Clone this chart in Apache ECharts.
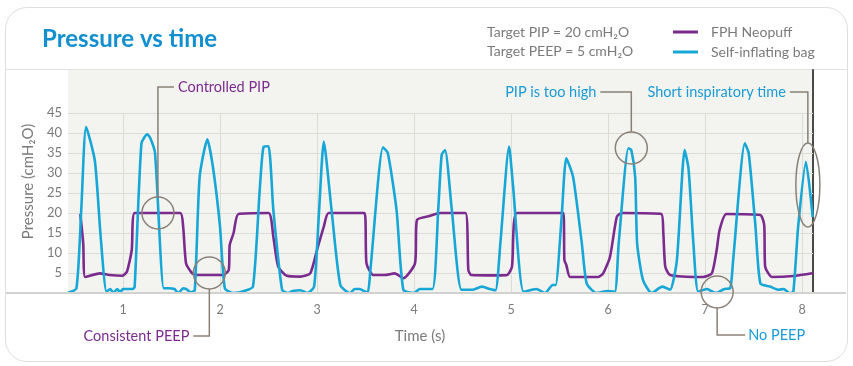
<!DOCTYPE html>
<html><head><meta charset="utf-8">
<script src="https://cdn.jsdelivr.net/npm/echarts@6/dist/echarts.min.js"></script>
<style>
html,body{margin:0;padding:0;background:#fff;}
#wrap{position:relative;width:853px;height:366px;}
#card{position:absolute;left:5px;top:7px;width:841px;height:353px;border:1px solid #dedede;border-radius:22px;box-sizing:content-box;}
#hdr{position:absolute;left:6px;top:69px;width:841px;height:1px;background:#e2e2e2;}
#c{position:absolute;left:0;top:0;width:853px;height:366px;}
</style>
</head><body>
<div id="wrap"><div id="card"></div><div id="hdr"></div><div id="c"></div></div>
<script>
// ---- data ----
const seriesNames = ['FPH Neopuff', 'Self-inflating bag'];
const neopuffSamples = [[0.56,19.75],[0.59,12.4],[0.61,4],[0.76,4.9],[0.86,4.5],[0.99,4.3],[1.04,5.3],[1.09,10.75],[1.12,20],[1.59,20],[1.62,16.6],[1.65,7.4],[1.71,5],[1.76,4.5],[2.03,4.5],[2.09,5.75],[2.10,12],[2.14,15],[2.19,19.75],[2.50,20],[2.55,14],[2.60,6.6],[2.69,4.3],[2.83,4.1],[2.93,4.9],[3.00,10.75],[3.07,16.6],[3.12,20],[3.49,20],[3.51,7.4],[3.58,4.5],[3.70,4.5],[3.80,4.9],[3.89,3.7],[4.01,7.4],[4.03,18.25],[4.16,19.25],[4.27,20],[4.53,20],[4.56,5.75],[4.59,4.5],[4.85,4.4],[4.96,4.5],[5.01,6.6],[5.06,20],[5.54,20],[5.55,8.25],[5.57,7],[5.61,4],[5.90,4],[5.95,4.9],[6.02,9],[6.09,19],[6.14,20],[6.55,19.75],[6.57,15],[6.59,6.6],[6.64,4.5],[6.98,4],[7.07,4.9],[7.12,10.75],[7.15,15.75],[7.22,19.75],[7.57,19.5],[7.61,17],[7.62,6.6],[7.69,4],[7.91,4.25],[8.12,5]];
const bagSamples = [[0.43,0],[0.52,1.2],[0.57,21],[0.62,41.5],[0.71,33],[0.77,14],[0.83,0.3],[0.87,1],[0.90,0],[0.94,1],[0.97,0.2],[1.00,1],[1.10,1],[1.12,1.5],[1.19,37.4],[1.25,39.7],[1.28,38.8],[1.33,35],[1.42,1.2],[1.47,1.2],[1.53,1],[1.57,0],[1.62,1.2],[1.65,1],[1.70,0.2],[1.74,0.7],[1.79,29],[1.87,38.4],[1.93,31],[2.00,16.6],[2.05,1.2],[2.14,0],[2.25,0.5],[2.34,1.6],[2.41,26],[2.45,36.6],[2.50,36.7],[2.55,20.7],[2.64,0.8],[2.70,0],[2.75,0.5],[2.83,0.7],[2.90,0],[2.97,1.6],[3.02,20],[3.07,37.8],[3.15,20.7],[3.24,2],[3.34,0],[3.39,1],[3.44,1],[3.52,0],[3.55,5.7],[3.68,36.4],[3.73,35],[3.82,20.7],[3.89,0.8],[4.00,0],[4.06,1],[4.19,1],[4.25,21],[4.285,34.5],[4.32,35.75],[4.39,20.7],[4.49,0.8],[4.60,0.8],[4.70,1.6],[4.78,1],[4.84,0.7],[4.89,12.4],[4.98,36.6],[5.02,27],[5.13,0.3],[5.26,1],[5.35,0],[5.43,2],[5.46,2],[5.52,18.3],[5.57,33.7],[5.64,29],[5.73,12.4],[5.78,2.4],[5.88,0],[6.00,0.5],[6.07,0.3],[6.11,12.4],[6.21,36.2],[6.24,35.75],[6.28,29],[6.30,12.4],[6.36,3.3],[6.45,0],[6.56,1.6],[6.64,0.8],[6.71,8.3],[6.79,35.75],[6.83,31],[6.88,12.4],[6.93,0.3],[7.02,1],[7.11,0],[7.20,1],[7.26,1.2],[7.29,8.3],[7.41,37.4],[7.45,35],[7.52,16.6],[7.57,2.4],[7.67,1.6],[7.76,0.8],[7.81,1],[7.87,0],[7.91,0.3],[7.96,16.6],[8.04,32.8],[8.11,19]];
const xTickLabels = [1, 2, 3, 4, 5, 6, 7, 8];
const yTickLabels = [5, 10, 15, 20, 25, 30, 35, 40, 45];
const timeRange = [0.433, 8.113];
const pressureRange = [0, 55.75];
const targetTexts = ['Target PIP = 20 cmH\u2082O', 'Target PEEP = 5 cmH\u2082O'];
// annotation anchors: [time, pressure]
const annoControlledPIP = [1.36, 20];
const annoConsistentPEEP = [1.89, 5];
const annoPIPTooHigh = [6.24, 36.25];
const annoShortInsp = [8.06, 27];
const annoNoPEEP = [7.125, 0.25];

// ---- style ----
const PURPLE = '#7b2b8e';
const BLUE = '#16a7d7';
const TBLUE = '#1a9ad6';
const GREY = '#7a7a7a';
const LEAD = '#8a8077';
const GRIDC = '#dcdcd6';
const FONT = 'Lato, "Open Sans", sans-serif';

const chart = echarts.init(document.getElementById('c'), null, {renderer: 'canvas'});

const gridLines = [];
xTickLabels.forEach(x => gridLines.push([{coord: [x, 0]}, {coord: [x, 45]}]));
yTickLabels.forEach(y => gridLines.push([{coord: [timeRange[0], y]}, {coord: [timeRange[1], y]}]));

const option = {
  animation: false,
  backgroundColor: 'transparent',
  title: {
    text: 'Pressure vs time', left: 37, top: 22,
    textStyle: {fontFamily: FONT, fontSize: 24, fontWeight: 'bold', color: '#128fcf'}
  },
  legend: {
    data: seriesNames, orient: 'vertical', left: 668, top: 20,
    icon: 'rect', itemWidth: 25, itemHeight: 3, itemGap: 6,
    textStyle: {fontFamily: FONT, fontSize: 14, color: GREY, padding: [0, 0, 0, 8]}
  },
  grid: {left: 68, right: 40, top: 70, bottom: 73, show: true, backgroundColor: '#f3f4ef', borderWidth: 0},
  xAxis: {
    type: 'value', min: timeRange[0], max: timeRange[1],
    axisLine: {show: false}, axisTick: {show: false, customValues: xTickLabels},
    splitLine: {show: false},
    axisLabel: {customValues: xTickLabels, color: GREY, fontFamily: FONT, fontSize: 12.5, margin: 10}
  },
  yAxis: [{
    type: 'value', min: pressureRange[0], max: pressureRange[1], interval: 5,
    name: 'Pressure (cmH\u2082O)', nameLocation: 'middle', nameGap: 31,
    nameTextStyle: {fontFamily: FONT, fontSize: 15, color: GREY},
    axisLine: {show: false}, axisTick: {show: false}, splitLine: {show: false},
    axisLabel: {color: GREY, fontFamily: FONT, fontSize: 13, margin: 6,
      formatter: v => (yTickLabels.indexOf(v) >= 0 ? String(v) : '')}
  }, {
    type: 'value', position: 'right', min: pressureRange[0], max: pressureRange[1],
    axisLine: {show: true, lineStyle: {color: '#4a4a4a', width: 2}},
    axisTick: {show: false}, axisLabel: {show: false}, splitLine: {show: false}
  }],
  series: [{
    name: seriesNames[0], type: 'line', data: neopuffSamples, showSymbol: false, symbol: 'none',
    smooth: 0.2, lineStyle: {color: PURPLE, width: 2.6}, itemStyle: {color: PURPLE}, z: 3,
    markLine: {
      silent: true, symbol: ['none', 'none'], z: 1, label: {show: false},
      lineStyle: {color: GRIDC, width: 1, type: 'solid'}, emphasis: {disabled: true},
      data: gridLines
    }
  }, {
    name: seriesNames[1], type: 'line', data: bagSamples, showSymbol: false, symbol: 'none',
    smooth: 0.2, lineStyle: {color: BLUE, width: 2.6}, itemStyle: {color: BLUE}, z: 4
  }]
};
chart.setOption(option);

const P = d => chart.convertToPixel({gridIndex: 0}, d);
const g = [];
const txt = (x, y, text, color, align, size) => g.push({type: 'text', x: x, y: y, silent: true,
  style: {text: text, fill: color, font: (size || 14.5) + 'px ' + FONT, textAlign: align, textVerticalAlign: 'middle'}});
const poly = pts => g.push({type: 'polyline', silent: true, shape: {points: pts},
  style: {stroke: LEAD, lineWidth: 1.5, fill: null}, z: 10});
const circ = (c, r) => g.push({type: 'circle', silent: true, shape: {cx: c[0], cy: c[1], r: r},
  style: {stroke: LEAD, lineWidth: 1.5, fill: null}, z: 10});

const zero = P([timeRange[0], 0]);
// long baseline
g.push({type: 'line', silent: true, shape: {x1: 6, y1: zero[1], x2: 846, y2: zero[1]}, style: {stroke: '#d2d2d0', lineWidth: 2}, z: 9});

// target texts
txt(487, 32, targetTexts[0], GREY, 'left', 14);
txt(487, 51, targetTexts[1], GREY, 'left', 14);

// Controlled PIP
let c = P(annoControlledPIP); circ(c, 16);
poly([[c[0], c[1] - 16], [c[0], 87], [c[0] + 16, 87]]);
txt(c[0] + 20, 87, 'Controlled PIP', PURPLE, 'left');
// Consistent PEEP
c = P(annoConsistentPEEP); circ(c, 16);
poly([[c[0], c[1] + 16], [c[0], 336], [c[0] - 16, 336]]);
txt(c[0] - 20, 336, 'Consistent PEEP', PURPLE, 'right');
// PIP is too high
c = P(annoPIPTooHigh); circ(c, 16);
poly([[c[0], c[1] - 16], [c[0], 92], [c[0] - 31, 92]]);
txt(c[0] - 35, 92, 'PIP is too high', TBLUE, 'right');
// Short inspiratory time
c = P(annoShortInsp);
g.push({type: 'ellipse', silent: true, shape: {cx: c[0], cy: c[1], rx: 12, ry: 42}, style: {stroke: LEAD, lineWidth: 1.5, fill: null}, z: 10});
poly([[c[0], c[1] - 42], [c[0], 92], [c[0] - 18, 92]]);
txt(c[0] - 22, 92, 'Short inspiratory time', TBLUE, 'right');
// No PEEP
c = P(annoNoPEEP); circ(c, 16);
poly([[c[0], c[1] + 16], [c[0], 335], [c[0] + 28, 335]]);
txt(c[0] + 31, 335, 'No PEEP', TBLUE, 'left');
// x axis title
txt(420, 336, 'Time (s)', GREY, 'center', 15);

chart.setOption({graphic: {elements: g}});
</script>
</body></html>
